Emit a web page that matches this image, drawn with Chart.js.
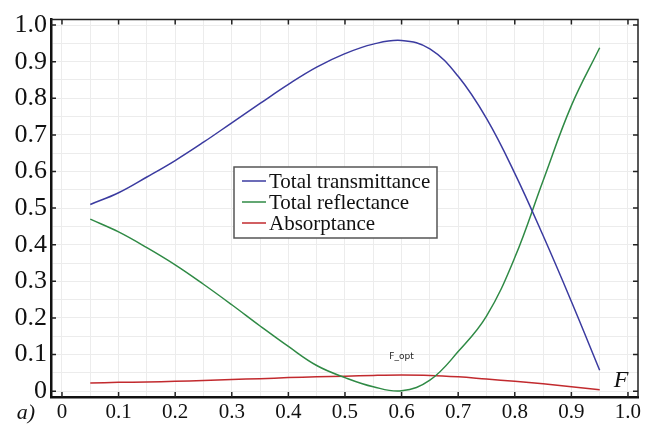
<!DOCTYPE html>
<html>
<head>
<meta charset="utf-8">
<script src="https://cdn.jsdelivr.net/npm/chart.js@4"></script>
<style>
  html, body { margin: 0; padding: 0; background: #fff; }
  #wrap { width: 653px; height: 424px; position: relative; }
</style>
</head>
<body>
<div id="wrap"><canvas id="chart"></canvas></div>
<script>
// filling factor F
const fValues = [0.05, 0.1, 0.15, 0.2, 0.25, 0.3, 0.35, 0.4, 0.45, 0.5, 0.55, 0.6, 0.65, 0.7, 0.75, 0.8, 0.85, 0.9, 0.95];

const transmittance = [0.51, 0.542, 0.585, 0.63, 0.68, 0.733, 0.786, 0.838, 0.885, 0.922, 0.948, 0.958, 0.935, 0.86, 0.745, 0.595, 0.425, 0.245, 0.057];
const reflectance   = [0.47, 0.435, 0.392, 0.345, 0.292, 0.236, 0.178, 0.122, 0.07, 0.037, 0.012, 0.001, 0.03, 0.108, 0.205, 0.365, 0.575, 0.78, 0.938];
const absorptance   = [0.022, 0.024, 0.025, 0.027, 0.029, 0.032, 0.034, 0.037, 0.039, 0.041, 0.043, 0.044, 0.043, 0.039, 0.033, 0.027, 0.02, 0.012, 0.004];

const seriesNames = ['Total transmittance', 'Total reflectance', 'Absorptance'];
const seriesColors = ['#3b3ba0', '#2f8a45', '#c22a2e'];

const toPoints = (ys) => fValues.map((x, i) => ({ x: x, y: ys[i] }));

const majorTick = (v) => Math.abs(Math.round(v * 10) - v * 10) < 1e-6;
const fmt = (v) => {
  const r = Math.round(v * 10) / 10;
  if (r === 0) return '0';
  return r.toFixed(1);
};

// frame, inner ticks, legend box and text marks
const decorations = {
  id: 'decorations',
  afterDraw(chart) {
    const ctx = chart.ctx;
    const a = chart.chartArea;
    const xs = chart.scales.x;
    const ys = chart.scales.y;
    ctx.save();

    // top / right frame
    ctx.strokeStyle = '#222';
    ctx.lineWidth = 1.5;
    ctx.beginPath();
    ctx.moveTo(a.left, a.top);
    ctx.lineTo(a.right, a.top);
    ctx.lineTo(a.right, a.bottom);
    ctx.stroke();

    // inward ticks
    ctx.lineWidth = 1.5;
    ctx.beginPath();
    for (let i = 0; i <= 10; i++) {
      const px = xs.getPixelForValue(i / 10);
      ctx.moveTo(px, a.bottom); ctx.lineTo(px, a.bottom - 5);
      ctx.moveTo(px, a.top); ctx.lineTo(px, a.top + 5);
      const py = ys.getPixelForValue(i / 10);
      ctx.moveTo(a.left, py); ctx.lineTo(a.left + 5, py);
      ctx.moveTo(a.right, py); ctx.lineTo(a.right - 5, py);
    }
    ctx.stroke();

    // legend
    const lx = 234, ly = 167, lw = 203, lh = 71;
    ctx.fillStyle = '#fff';
    ctx.fillRect(lx, ly, lw, lh);
    ctx.strokeStyle = '#555';
    ctx.lineWidth = 1.5;
    ctx.strokeRect(lx, ly, lw, lh);
    ctx.font = '21px "Liberation Serif", serif';
    ctx.textBaseline = 'middle';
    ctx.textAlign = 'left';
    chart.data.datasets.forEach((ds, i) => {
      const yy = ly + 14 + i * 21;
      ctx.strokeStyle = ds.borderColor;
      ctx.lineWidth = 1.5;
      ctx.beginPath();
      ctx.moveTo(lx + 8, yy);
      ctx.lineTo(lx + 32, yy);
      ctx.stroke();
      ctx.fillStyle = '#111';
      ctx.fillText(ds.label, lx + 35, yy + 1);
    });

    // text marks
    ctx.fillStyle = '#111';
    ctx.font = 'italic 24px "Liberation Serif", serif';
    ctx.textAlign = 'center';
    ctx.fillText('F', 621, 381);
    ctx.font = 'italic 22px "Liberation Serif", serif';
    ctx.fillText('a)', 26, 413);
    ctx.font = '9px "DejaVu Sans", sans-serif';
    ctx.fillStyle = '#222';
    ctx.fillText('F_opt', xs.getPixelForValue(0.6), ys.getPixelForValue(0.093));

    ctx.restore();
  }
};

new Chart(document.getElementById('chart'), {
  type: 'line',
  data: {
    datasets: [
      { label: seriesNames[0], data: toPoints(transmittance), borderColor: seriesColors[0] },
      { label: seriesNames[1], data: toPoints(reflectance), borderColor: seriesColors[1] },
      { label: seriesNames[2], data: toPoints(absorptance), borderColor: seriesColors[2] }
    ].map(d => Object.assign(d, {
      borderWidth: 1.5,
      pointRadius: 0,
      fill: false,
      tension: 0.4
    }))
  },
  options: {
    responsive: true,
    maintainAspectRatio: false,
    animation: false,
    layout: { padding: { top: 13, right: 15, left: 0, bottom: 0 } },
    plugins: {
      legend: { display: false },
      tooltip: { enabled: false }
    },
    scales: {
      x: {
        type: 'linear',
        min: -0.0194,
        max: 1.0177,
        afterFit: (s) => { s.height = 27; },
        ticks: {
          stepSize: 0.05,
          includeBounds: false,
          autoSkip: false,
          maxRotation: 0,
          padding: 3,
          color: '#111',
          font: { family: '"Liberation Serif", serif', size: 21 },
          callback: (v) => majorTick(v) ? fmt(v) : ''
        },
        grid: { color: '#ececec', lineWidth: 1, drawTicks: false },
        border: { color: '#111', width: 2.5 }
      },
      y: {
        min: -0.016,
        max: 1.015,
        afterFit: (s) => { s.width = 51; },
        ticks: {
          stepSize: 0.05,
          includeBounds: false,
          autoSkip: false,
          padding: 4,
          color: '#111',
          font: { family: '"Liberation Serif", serif', size: 26 },
          callback: (v) => majorTick(v) ? fmt(v) : ''
        },
        grid: { color: '#ececec', lineWidth: 1, drawTicks: false },
        border: { color: '#111', width: 2.5 }
      }
    }
  },
  plugins: [decorations]
});
</script>
</body>
</html>
